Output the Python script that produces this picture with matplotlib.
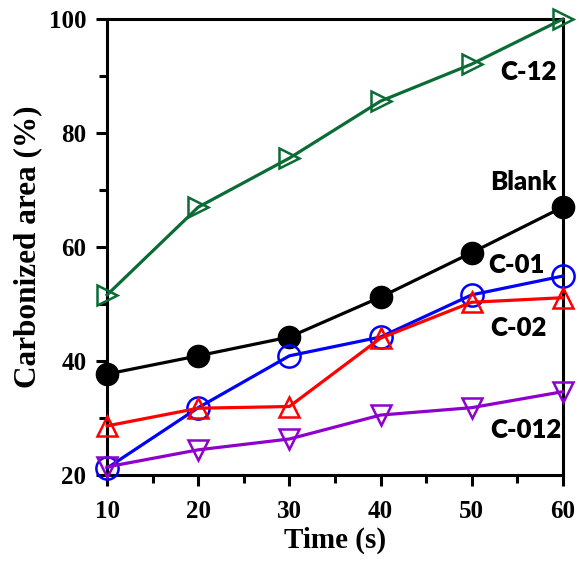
import matplotlib
matplotlib.use('Agg')
import matplotlib.pyplot as plt
from matplotlib.ticker import MultipleLocator

# Data
time_s = [10, 20, 30, 40, 50, 60]
c12 = [51.6, 67.0, 75.6, 85.6, 92.1, 100.0]
blank = [37.7, 40.9, 44.2, 51.2, 59.0, 67.0]
c01 = [21.2, 31.8, 40.9, 44.2, 51.6, 54.9]
c02 = [28.6, 31.7, 32.0, 44.0, 50.3, 51.1]
c012 = [21.4, 24.4, 26.3, 30.5, 31.8, 34.6]

fig = plt.figure(figsize=(5.79, 5.62), dpi=100)
ax = fig.add_axes([0.185, 0.155, 0.787, 0.811])

lw = 2.3
ax.plot(time_s, c12, color='#0b6b35', lw=lw, marker='>', ms=14, mfc='none', mec='#0b6b35', mew=1.8, clip_on=False, zorder=3)
ax.plot(time_s, blank, color='black', lw=lw, marker='o', ms=16, mfc='black', mec='black', clip_on=False, zorder=3)
ax.plot(time_s, c01, color='#0000ff', lw=lw, marker='o', ms=16, mfc='none', mec='#0000ff', mew=1.8, clip_on=False, zorder=4)
ax.plot(time_s, c02, color='#ff0000', lw=lw, marker='^', ms=15, mfc='none', mec='#ff0000', mew=1.8, clip_on=False, zorder=5)
ax.plot(time_s, c012, color='#8e00cc', lw=lw, marker='v', ms=15, mfc='none', mec='#8e00cc', mew=1.8, clip_on=False, zorder=4)

# Series labels
lab_font = dict(family='Lato', fontweight='heavy', fontsize=18.5, ha='right', va='center')
ax.text(59.3, 90.7, 'C-12', **lab_font)
ax.text(59.3, 71.4, 'Blank', **lab_font)
ax.text(58.0, 56.8, 'C-01', **lab_font)
ax.text(58.2, 45.8, 'C-02', **lab_font)
ax.text(59.9, 27.9, 'C-012', **lab_font)

ax.set_xlim(10, 60)
ax.set_ylim(20, 100)
ax.xaxis.set_major_locator(MultipleLocator(10))
ax.xaxis.set_minor_locator(MultipleLocator(5))
ax.yaxis.set_major_locator(MultipleLocator(20))
ax.yaxis.set_minor_locator(MultipleLocator(10))

for s in ax.spines.values():
    s.set_linewidth(2.2)
ax.tick_params(which='both', direction='out', width=2.2, top=False, right=False)
ax.tick_params(which='major', length=8)
ax.tick_params(which='minor', length=5.5)
ax.tick_params(axis='x', which='major', pad=10)
ax.tick_params(axis='y', which='major', pad=7)

for lbl in ax.get_xticklabels() + ax.get_yticklabels():
    lbl.set_fontfamily('Liberation Serif')
    lbl.set_fontweight('bold')
    lbl.set_fontsize(18)

ax.set_xlabel('Time (s)', family='Liberation Serif', fontweight='bold', fontsize=21, labelpad=3)
ax.set_ylabel('Carbonized area (%)', family='Liberation Serif', fontweight='bold', fontsize=22.5, labelpad=5)

fig.savefig('out.png', dpi=100)
